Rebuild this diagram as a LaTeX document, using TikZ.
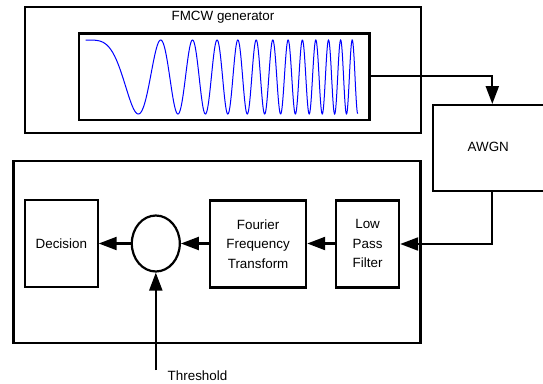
\documentclass[tikz,border=0pt]{standalone}
\usepackage{fontspec}
\setmainfont{Liberation Sans}
\usetikzlibrary{arrows.meta,shapes.geometric}
\begin{document}
\begin{tikzpicture}[x=1pt,y=-1pt,
  box/.style={draw,line width=2.2pt,inner sep=0pt,anchor=north west},
  lbl/.style={font=\fontsize{13.4}{19.5}\selectfont,align=center,inner sep=0pt},
  conn/.style={line width=2.2pt,-{Triangle[length=18pt,width=13pt]}}]
\useasboundingbox (0,0) rectangle (543,383);
\fill[white] (0,0) rectangle (543,383);
% generator
\node[box,minimum width=395.5pt,minimum height=126pt] (gen) at (24,6) {};
\node[lbl] (gentitle) at (223,17) {FMCW generator};
\node[box,minimum width=290.6pt,minimum height=86.8pt] (wave) at (77.7,32.3) {};
\draw[blue,line width=1pt,samples=900,domain=0.01:271.9,smooth]
  plot ({85.7+\x},{77-37*cos(360*(\x/75)^1.96)});
% AWGN
\node[box,minimum width=115pt,minimum height=86pt] (awgn) at (431.7,104) {};
\node[lbl] (awgnt) at (488.3,147) {AWGN};
% receiver
\node[box,minimum width=407pt,minimum height=182pt] (rx) at (12.3,160) {};
\node[box,minimum width=72.5pt,minimum height=87pt] (dec) at (24,199) {};
\node[lbl] at (dec.center) {Decision};
\node[draw,line width=2.2pt,ellipse,minimum width=48pt,minimum height=56pt,inner sep=0pt] (cmp) at (155.8,243.5) {};
\node[box,minimum width=96pt,minimum height=87pt] (fft) at (209,199.3) {};
\node[lbl] at (fft.center) {Fourier\\Frequency\\Transform};
\node[box,minimum width=63pt,minimum height=87pt] (lpf) at (335,199.3) {};
\node[lbl] at (lpf.center) {Low\\Pass\\Filter};
\coordinate (thr) at (155.8,370);
\node[lbl,anchor=base west] (thrt) at (167.5,380) {Threshold};
% connectors
\draw[conn] (wave.east |- 0,75.7) -| (awgn.north -| 492.3,0);
\draw[conn] (awgn.south -| 492.3,0) |- (lpf.east |- 0,244);
\draw[conn] (lpf.west |- 0,243.5) -- (fft.east |- 0,243.5);
\draw[conn] (fft.west |- 0,243.5) -- (cmp.east);
\draw[conn] (cmp.west) -- (dec.east |- 0,243.5);
\draw[conn] (thr) -- (cmp.south);
\end{tikzpicture}
\end{document}
